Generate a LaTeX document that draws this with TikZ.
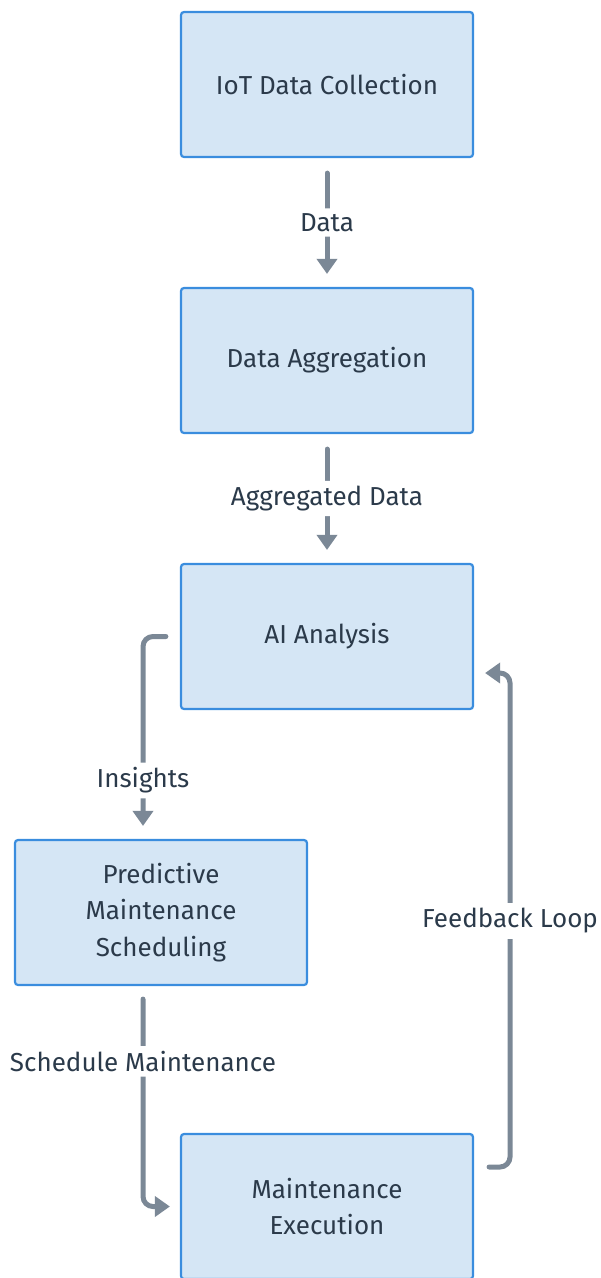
\documentclass[tikz,border=0pt]{standalone}
\usepackage{fontspec}
\setmainfont{Fira Sans}
\usetikzlibrary{arrows.meta}
\definecolor{boxblue}{HTML}{3A8DDE}
\definecolor{boxfill}{HTML}{D5E6F5}
\definecolor{flowgray}{HTML}{7B8896}
\definecolor{ink}{HTML}{2B3A4A}
\tikzset{
  box/.style={draw=boxblue, fill=boxfill, line width=2.2pt, rounded corners=3pt,
    minimum width=292pt, minimum height=145pt, align=center, text=ink,
    font=\fontsize{26}{36.5}\selectfont},
  flow/.style={draw=flowgray, line width=5pt, line cap=round, rounded corners=10pt,
    -{Triangle[length=15pt,width=20pt]}},
  lbl/.style={fill=white, text=ink, inner xsep=2pt, inner ysep=5pt,
    font=\fontsize{26}{28}\selectfont},
}
\begin{document}
\begin{tikzpicture}[x=1pt,y=-1pt]
  \useasboundingbox (0,0) rectangle (601,1278);
  \node[box] (iot) at (327,84.5) {IoT Data Collection};
  \node[box] (agg) at (327,360.5) {Data Aggregation};
  \node[box] (ai) at (327,636.5) {AI Analysis};
  \node[box] (pms) at (161,912.5) {Predictive\\Maintenance\\Scheduling};
  \node[box] (exe) at (327,1206.5) {Maintenance\\Execution};
  \coordinate (fbk) at (510,921);
  % straight flows
  \draw[flow, shorten <=15pt, shorten >=13pt] (iot) -- node[lbl] (lData) {Data} (agg);
  \draw[flow, shorten <=15pt, shorten >=13pt] (agg) -- node[lbl] (lAgg) {Aggregated Data} (ai);
  % elbow flows
  \draw[flow] ([xshift=-14pt]ai.west) -| node[lbl, pos=0.88] (lIns) {Insights}
    ([xshift=-18pt,yshift=13pt]pms.north);
  \draw[flow, shorten >=10pt] ([xshift=-18pt,yshift=-13pt]pms.south) |-
    node[lbl, pos=0.15] (lSched) {Schedule Maintenance} (exe.west);
  \draw[flow] ([xshift=15pt,yshift=39.5pt]exe.east) -| (fbk)
    |- ([xshift=11pt,yshift=-36.5pt]ai.east);
  \node[lbl] (lFeed) at (fbk) {Feedback Loop};
\end{tikzpicture}
\end{document}
